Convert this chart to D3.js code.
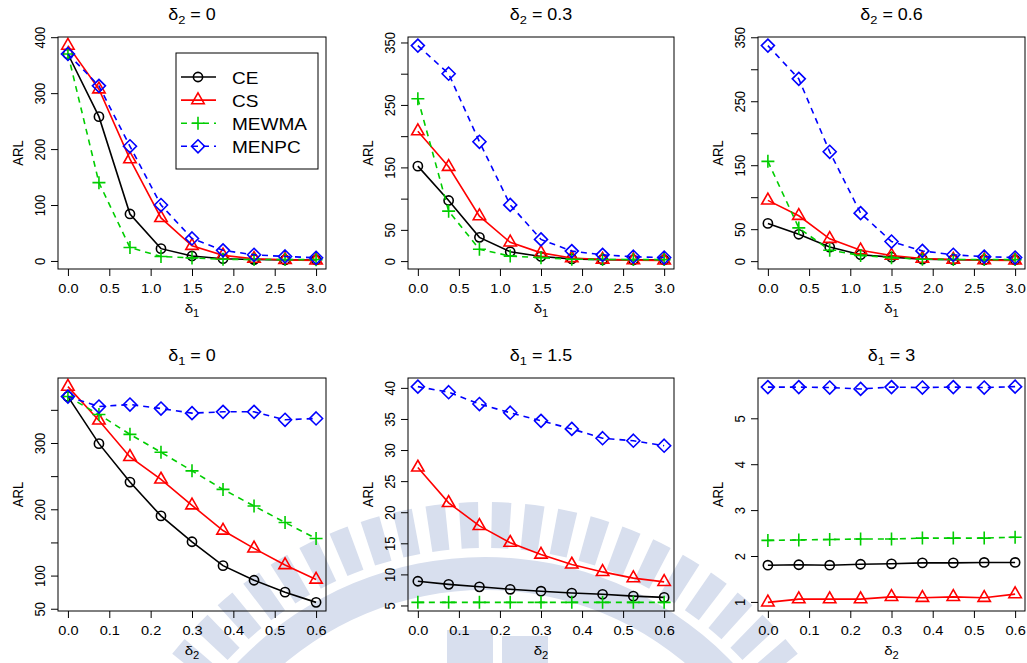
<!DOCTYPE html>
<html lang="en">
<head>
<meta charset="utf-8">
<title>ARL comparison</title>
<script src="https://d3js.org/d3.v7.min.js"></script>
<style>
  body { margin: 0; background: #fff; }
  svg { display: block; font-family: "Liberation Sans", Arial, Helvetica, sans-serif; font-weight: normal; }
</style>
</head>
<body>
<svg id="chart" width="1027" height="663"></svg>
<script>
// shift sizes on the x axes
var delta1 = [0, 0.375, 0.75, 1.125, 1.5, 1.875, 2.25, 2.625, 3.0];
var delta2 = [0, 0.075, 0.15, 0.225, 0.3, 0.375, 0.45, 0.525, 0.6];
var delta1Ticks = [0, 0.5, 1, 1.5, 2, 2.5, 3];
var delta2Ticks = [0, 0.1, 0.2, 0.3, 0.4, 0.5, 0.6];
var methods = ["CE", "CS", "MEWMA", "MENPC"];

// ARL values, top row (delta2 fixed)
var arlD2_0 = {
  CE:    [370, 258, 84, 22, 8.9, 4, 2.5, 2, 1.8],
  CS:    [385, 307, 182, 77, 27.2, 10, 4, 2, 0.99],
  MEWMA: [370, 140, 24, 8, 5.5, 3, 2.6, 2.4, 2.34],
  MENPC: [370, 313, 205, 100, 40.2, 19, 11, 8, 5.68]
};
var arlD2_03 = {
  CE:    [152, 97, 38, 15, 7.3, 3.5, 2.4, 2, 1.83],
  CS:    [208, 151, 72, 30, 13.2, 5, 2.5, 1.5, 1.11],
  MEWMA: [260, 80, 19, 8, 5.5, 3, 2.6, 2.4, 2.37],
  MENPC: [345, 300, 191, 90, 34.7, 16, 10, 7, 5.68]
};
var arlD2_06 = {
  CE:    [59, 42, 22, 10, 6.3, 3.2, 2.3, 2, 1.86],
  CS:    [95, 71, 35, 17, 8.8, 4, 2.5, 1.5, 1.17],
  MEWMA: [156, 52, 17, 9, 5.5, 3, 2.6, 2.4, 2.41],
  MENPC: [337, 285, 171, 75, 30.7, 16, 10, 7, 5.69]
};
// ARL values, bottom row (delta1 fixed)
var arlD1_0 = {
  CE:    [370, 299, 241, 190, 151, 115, 93, 75, 59.6],
  CS:    [385, 334, 279, 245, 206, 168, 141, 116, 94],
  MEWMA: [370, 343, 313, 286, 258, 230, 205, 180, 156],
  MENPC: [370, 355, 358, 352, 345, 347, 347, 335, 337]
};
var arlD1_15 = {
  CE:    [8.9, 8.4, 8.0, 7.6, 7.3, 7.0, 6.8, 6.5, 6.3],
  CS:    [27.2, 21.5, 17.8, 15.1, 13.2, 11.6, 10.4, 9.4, 8.8],
  MEWMA: [5.5, 5.5, 5.5, 5.5, 5.5, 5.5, 5.5, 5.5, 5.5],
  MENPC: [40.2, 39.3, 37.4, 36.0, 34.7, 33.4, 31.9, 31.5, 30.7]
};
var arlD1_3 = {
  CE:    [1.80, 1.81, 1.80, 1.82, 1.83, 1.85, 1.85, 1.86, 1.86],
  CS:    [0.99, 1.06, 1.06, 1.06, 1.11, 1.09, 1.11, 1.09, 1.17],
  MEWMA: [2.34, 2.35, 2.36, 2.37, 2.37, 2.39, 2.39, 2.39, 2.41],
  MENPC: [5.68, 5.68, 5.67, 5.64, 5.68, 5.67, 5.68, 5.67, 5.69]
};

var panels = [
  {sub: "2", val: "0",   xs: delta1, xt: delta1Ticks, xsub: "1", data: arlD2_0,  yt: [0,100,200,300,400], yl: [0,100,200,300,400], legend: true},
  {sub: "2", val: "0.3", xs: delta1, xt: delta1Ticks, xsub: "1", data: arlD2_03, yt: d3.range(0,351,50), yl: [0,50,150,250,350]},
  {sub: "2", val: "0.6", xs: delta1, xt: delta1Ticks, xsub: "1", data: arlD2_06, yt: d3.range(0,351,50), yl: [0,50,150,250,350]},
  {sub: "1", val: "0",   xs: delta2, xt: delta2Ticks, xsub: "2", data: arlD1_0,  yt: d3.range(50,351,50), yl: [50,100,200,300]},
  {sub: "1", val: "1.5", xs: delta2, xt: delta2Ticks, xsub: "2", data: arlD1_15, yt: d3.range(5,41,5), yl: d3.range(5,41,5)},
  {sub: "1", val: "3",   xs: delta2, xt: delta2Ticks, xsub: "2", data: arlD1_3,  yt: [1,2,3,4,5], yl: [1,2,3,4,5]}
];

var style = {
  CE:    {color: "#000000", dash: null,  shape: "circle"},
  CS:    {color: "#ff0000", dash: null,  shape: "triangle"},
  MEWMA: {color: "#00cd00", dash: "6,5", shape: "plus"},
  MENPC: {color: "#0000ff", dash: "6,5", shape: "diamond"}
};

// plot boxes (R-like layout, 2 x 3)
var colL = [58, 408, 758], colR = [326, 674, 1025];
var rowT = [37, 378], rowB = [269, 611];
var SX = 1.12; // the picture is a little wider than tall

var svg = d3.select("#chart");
svg.append("rect").attr("width", 1027).attr("height", 663).attr("fill", "#fff");

// faint watermark behind the plots
var wm = svg.append("g").attr("transform", "translate(485,900)").attr("fill", "#d8dfee");
var bar = d3.arc().innerRadius(352).outerRadius(398);
d3.range(-60, 61, 4.8).forEach(function(a) {
  var s = (a - 1.4) * Math.PI / 180, e = (a + 1.4) * Math.PI / 180;
  wm.append("path").attr("d", bar({startAngle: s, endAngle: e}));
});
wm.append("path").attr("d", d3.arc().innerRadius(310).outerRadius(343)({startAngle: -Math.PI, endAngle: Math.PI}));
wm.append("rect").attr("x", -38).attr("y", -270).attr("width", 46).attr("height", 40);
wm.append("rect").attr("x", 17).attr("y", -264).attr("width", 46).attr("height", 40);

function marker(sel, shape, color) {
  var p;
  if (shape === "circle") {
    sel.append("circle").attr("r", 4.6).attr("fill", "none").attr("stroke", color).attr("stroke-width", 1.6);
    return;
  }
  if (shape === "triangle") p = "M0,-7.2L6.2,3.6L-6.2,3.6Z";
  if (shape === "plus") p = "M-6.5,0H6.5M0,-6.5V6.5";
  if (shape === "diamond") p = "M0,-6.5L6.5,0L0,6.5L-6.5,0Z";
  sel.append("path").attr("d", p).attr("fill", "none").attr("stroke", color).attr("stroke-width", 1.6);
}

function pad(ext) {
  var r = ext[1] - ext[0];
  return [ext[0] - 0.04 * r, ext[1] + 0.04 * r];
}

panels.forEach(function(p, i) {
  var c = i % 3, r = Math.floor(i / 3);
  var w = colR[c] - colL[c], h = rowB[r] - rowT[r];
  var g = svg.append("g").attr("transform", "translate(" + colL[c] + "," + rowT[r] + ")");

  var allY = d3.merge(methods.map(function(m) { return p.data[m]; }));
  var x = d3.scaleLinear().domain(pad(d3.extent(p.xs))).range([0, w]);
  var y = d3.scaleLinear().domain(pad(d3.extent(allY))).range([h, 0]);

  // title
  var t = g.append("text").attr("text-anchor", "middle").attr("font-size", 16)
    .attr("transform", "translate(" + (w / 2) + ",-17) scale(" + SX + ",1)");
  t.append("tspan").text("\u03b4");
  t.append("tspan").attr("dy", 4).attr("font-size", 11.5).text(p.sub);
  t.append("tspan").attr("dy", -4).text(" = " + p.val);

  // x axis
  var gx = g.append("g").attr("transform", "translate(0," + h + ")")
    .call(d3.axisBottom(x).tickValues(p.xt).tickSize(7).tickFormat(d3.format(".1f")));
  gx.attr("font-size", null).attr("font-family", null);
  gx.select(".domain").remove();
  gx.selectAll("text").attr("y", null).attr("dy", null).attr("font-size", 13)
    .attr("transform", "translate(0,23.5) scale(" + SX + ",1)");

  // y axis
  var gy = g.append("g")
    .call(d3.axisLeft(y).tickValues(p.yt).tickSize(7)
      .tickFormat(function(d) { return p.yl.indexOf(d) >= 0 ? d : ""; }));
  gy.attr("font-size", null).attr("font-family", null);
  gy.select(".domain").remove();
  gy.selectAll("text").attr("x", null).attr("dy", null).attr("text-anchor", "middle").attr("font-size", 13)
    .attr("transform", "translate(-13,0) scale(" + SX + ",1) rotate(-90)");

  // axis titles
  g.append("text").attr("text-anchor", "middle").attr("font-size", 13)
    .attr("transform", "translate(-35.3," + (h / 2) + ") scale(" + SX + ",1) rotate(-90)").text("ARL");
  var xl = g.append("text").attr("text-anchor", "middle").attr("font-size", 13.5)
    .attr("transform", "translate(" + (w / 2) + "," + (h + 44) + ") scale(" + SX + ",1)");
  xl.append("tspan").text("\u03b4");
  xl.append("tspan").attr("dy", 4).attr("font-size", 10).text(p.xsub);

  // series
  var line = d3.line().x(function(d, k) { return x(p.xs[k]); }).y(function(d) { return y(d); });
  methods.forEach(function(m) {
    var s = style[m];
    g.append("path").datum(p.data[m]).attr("d", line).attr("fill", "none")
      .attr("stroke", s.color).attr("stroke-width", 1.6).attr("stroke-dasharray", s.dash);
    g.selectAll(null).data(p.data[m]).enter().append("g")
      .attr("transform", function(d, k) { return "translate(" + x(p.xs[k]) + "," + y(d) + ")"; })
      .each(function() { marker(d3.select(this), s.shape, s.color); });
  });

  // frame
  g.append("rect").attr("width", w).attr("height", h).attr("fill", "none").attr("stroke", "#000").attr("stroke-width", 1);

  // legend
  if (p.legend) {
    var lg = g.append("g").attr("transform", "translate(" + (176 - colL[c]) + "," + (53 - rowT[r]) + ")");
    lg.append("rect").attr("width", 142).attr("height", 116).attr("fill", "#fff").attr("stroke", "#000");
    methods.forEach(function(m, k) {
      var s = style[m], yy = 24 + k * 23.1;
      lg.append("line").attr("x1", 5).attr("x2", 40).attr("y1", yy).attr("y2", yy)
        .attr("stroke", s.color).attr("stroke-width", 1.6).attr("stroke-dasharray", s.dash);
      marker(lg.append("g").attr("transform", "translate(22," + yy + ")"), s.shape, s.color);
      lg.append("text").attr("font-size", 17)
        .attr("transform", "translate(56," + (yy + 6.7) + ") scale(" + SX + ",1)").text(m);
    });
  }
});
</script>
</body>
</html>
